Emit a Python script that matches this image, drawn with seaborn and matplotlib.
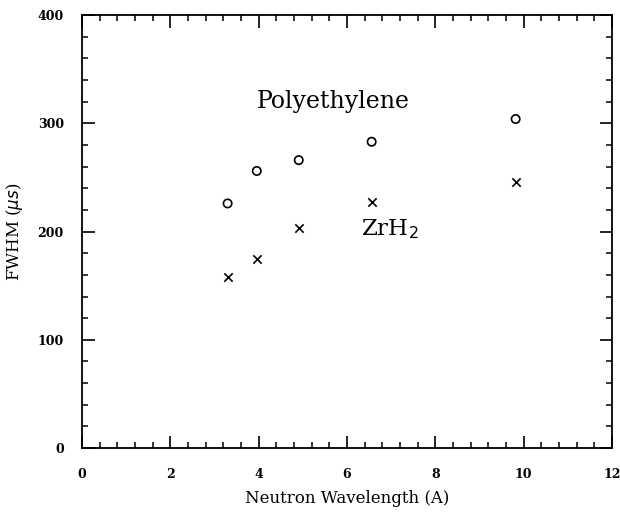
import matplotlib
matplotlib.use("Agg")
import matplotlib.pyplot as plt
import seaborn as sns
import pandas as pd
from matplotlib.ticker import MultipleLocator

wavelength = [3.30, 3.96, 4.91, 6.56, 9.82]
poly_fwhm = [226, 256, 266, 283, 304]
zrh2_fwhm = [158, 175, 203, 227, 246]

poly = pd.DataFrame({"wavelength": wavelength, "fwhm": poly_fwhm})
zrh2 = pd.DataFrame({"wavelength": wavelength, "fwhm": zrh2_fwhm})

sns.set_theme(style="ticks")
plt.rcParams["font.family"] = ["DejaVu Serif"]
plt.rcParams["text.color"] = "black"
plt.rcParams["axes.labelcolor"] = "black"
plt.rcParams["xtick.color"] = "black"
plt.rcParams["ytick.color"] = "black"

fig = plt.figure(figsize=(6.2, 5.21), dpi=100)
ax = fig.add_axes([0.132, 0.140, 0.855, 0.831])

sns.scatterplot(data=poly, x="wavelength", y="fwhm", marker="o", ax=ax,
                s=36, facecolor="none", edgecolor="black", linewidth=1.2,
                legend=False)
sns.scatterplot(data=zrh2, x="wavelength", y="fwhm", marker="x", ax=ax,
                s=36, color="black", linewidth=1.2, legend=False)

ax.set_xlim(0, 12)
ax.set_ylim(0, 400)
ax.xaxis.set_major_locator(MultipleLocator(2))
ax.xaxis.set_minor_locator(MultipleLocator(0.4))
ax.yaxis.set_major_locator(MultipleLocator(100))
ax.yaxis.set_minor_locator(MultipleLocator(20))
ax.tick_params(which="both", direction="in", top=True, right=True,
               color="black", labelcolor="black")
ax.tick_params(which="major", length=9, width=1.2, labelsize=9, pad=14)
ax.tick_params(which="minor", length=4.5, width=1.1)
for lab in ax.get_xticklabels() + ax.get_yticklabels():
    lab.set_fontweight("bold")
ax.tick_params(axis="y", pad=13)
for sp in ax.spines.values():
    sp.set_linewidth(1.3)
    sp.set_color("black")

ax.set_xlabel("Neutron Wavelength (A)", fontsize=12, labelpad=7)
ax.set_ylabel(r"FWHM ($\mu s$)", fontsize=12, labelpad=9)

ax.text(5.70, 320, "Polyethylene", fontsize=17, ha="center", va="center")
ax.text(6.96, 202, r"ZrH$_2$", fontsize=16.5, ha="center", va="center")

fig.savefig("out.png", dpi=100)
